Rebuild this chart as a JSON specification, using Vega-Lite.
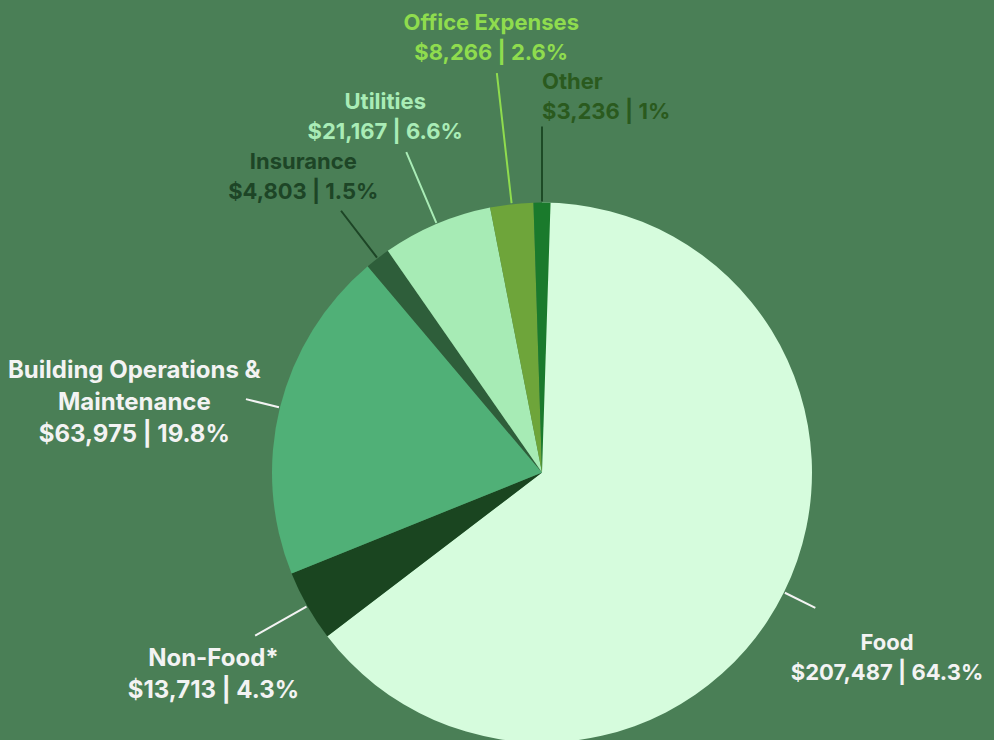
{
  "$schema": "https://vega.github.io/schema/vega-lite/v6.json",
  "width": 900,
  "height": 535,
  "autosize": {"type": "none"},
  "padding": {"left": 92, "top": 205, "right": 2, "bottom": 0},
  "background": "#4a7f56",
  "config": {"view": {"stroke": null}, "font": "Inter"},
  "data": {
    "values": [
      {"category": "Food", "amount": 207487, "lines": ["Food", "$207,487 | 64.3%"]},
      {"category": "Non-Food*", "amount": 13713, "lines": ["Non-Food*", "$13,713 | 4.3%"]},
      {"category": "Building Operations & Maintenance", "amount": 63975, "lines": ["Building Operations &", "Maintenance", "$63,975 | 19.8%"]},
      {"category": "Insurance", "amount": 4803, "lines": ["Insurance", "$4,803 | 1.5%"]},
      {"category": "Utilities", "amount": 21167, "lines": ["Utilities", "$21,167 | 6.6%"]},
      {"category": "Office Expenses", "amount": 8266, "lines": ["Office Expenses", "$8,266 | 2.6%"]},
      {"category": "Other", "amount": 3236, "lines": ["Other", "$3,236 | 1%"]}
    ]
  },
  "layer": [
    {
      "transform": [{"stack": "amount", "groupby": [], "as": ["v0", "v1"]}],
      "mark": {"type": "arc", "radius": 270},
      "encoding": {
        "theta": {"field": "v0", "type": "quantitative"},
        "theta2": {"field": "v1"},
        "color": {
          "field": "category",
          "type": "nominal",
          "legend": null,
          "scale": {
            "domain": ["Food", "Non-Food*", "Building Operations & Maintenance", "Insurance", "Utilities", "Office Expenses", "Other"],
            "range": ["#d6fcdd", "#1a4520", "#50b077", "#2e5e3a", "#a7ebb5", "#6ea53a", "#1a7a2c"]
          }
        }
      }
    },
    {
      "transform": [
        {"stack": "amount", "groupby": [], "as": ["v0", "v1"]},
        {"fold": ["v0", "v1"], "as": ["edge_key", "edge"]},
        {"joinaggregate": [{"op": "mean", "field": "edge", "as": "mid"}], "groupby": ["category"]},
        {"filter": "datum.edge_key === 'v0'"}
      ],
      "mark": {
        "type": "arc",
        "filled": false,
        "strokeWidth": 2,
        "radius2": 271,
        "radius": {"expr": "[305, 330, 305, 330, 348, 402, 346][indexof(['Food','Non-Food*','Building Operations & Maintenance','Insurance','Utilities','Office Expenses','Other'], datum.category)]"}
      },
      "encoding": {
        "theta": {"field": "mid", "type": "quantitative"},
        "theta2": {"field": "mid"},
        "stroke": {
          "field": "category",
          "type": "nominal",
          "legend": null,
          "scale": {
            "domain": ["Food", "Non-Food*", "Building Operations & Maintenance", "Insurance", "Utilities", "Office Expenses", "Other"],
            "range": ["#f3f3f3", "#f3f3f3", "#f3f3f3", "#1d4526", "#a9ecb6", "#8fdc4e", "#1d4a26"]
          }
        }
      }
    },
    {
      "transform": [
        {"stack": "amount", "groupby": [], "as": ["v0", "v1"]},
        {"fold": ["v0", "v1"], "as": ["edge_key", "edge"]},
        {"joinaggregate": [{"op": "mean", "field": "edge", "as": "mid"}], "groupby": ["category"]},
        {"filter": "datum.edge_key === 'v0'"}
      ],
      "mark": {
        "type": "text",
        "fontSize": {"expr": "datum.category === 'Building Operations & Maintenance' || datum.category === 'Non-Food*' ? 24 : 22"},
        "fontWeight": "bold",
        "lineHeight": {"expr": "datum.category === 'Building Operations & Maintenance' || datum.category === 'Non-Food*' ? 32 : 30"},
        "baseline": "middle",
        "align": {"expr": "datum.category === 'Other' ? 'left' : 'center'"},
        "radius": {"expr": "[385, 378, 420, 392, 402, 452, 391][indexof(['Food','Non-Food*','Building Operations & Maintenance','Insurance','Utilities','Office Expenses','Other'], datum.category)]"}
      },
      "encoding": {
        "theta": {"field": "mid", "type": "quantitative"},
        "text": {"field": "lines"},
        "fill": {
          "field": "category",
          "type": "nominal",
          "legend": null,
          "scale": {
            "domain": ["Food", "Non-Food*", "Building Operations & Maintenance", "Insurance", "Utilities", "Office Expenses", "Other"],
            "range": ["#f3f3f3", "#f3f3f3", "#f3f3f3", "#1d4526", "#a9ecb6", "#8fdc4e", "#2a5a1e"]
          }
        }
      }
    }
  ]
}
